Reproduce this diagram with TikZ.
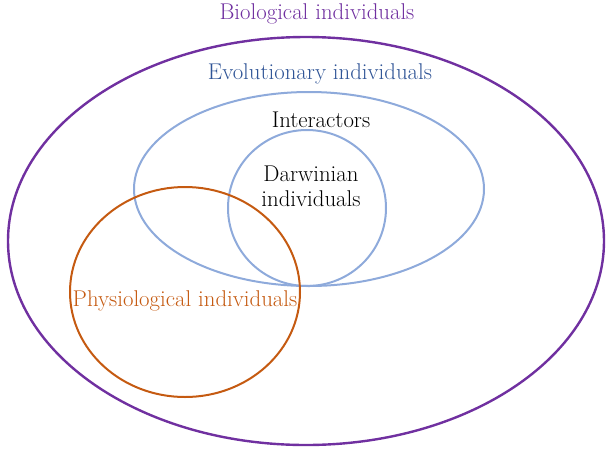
\documentclass[tikz,border=0pt]{standalone}
\usetikzlibrary{positioning}
\definecolor{biopurple}{RGB}{112,48,160}
\definecolor{evoblue}{RGB}{142,170,219}
\definecolor{evotext}{RGB}{47,84,150}
\definecolor{physorange}{RGB}{197,90,17}
\tikzset{lbl/.style={font=\fontsize{22.8}{25}\selectfont, align=center, inner sep=0pt}}

\begin{document}
\begin{tikzpicture}[x=1pt,y=-1pt]
			\useasboundingbox (0,0) rectangle (606,451);
			\draw[biopurple,line width=2.4pt] (306,241) ellipse [x radius=298, y radius=204];
			\draw[evoblue,line width=2pt]     (309,189) ellipse [x radius=175, y radius=97];
			\draw[evoblue,line width=2pt]     (307,208) ellipse [x radius=79, y radius=78];
			\draw[physorange,line width=2pt]  (185,292) ellipse [x radius=115, y radius=105];
			\node[lbl,text=biopurple]  (bio)  at (317,14)  {Biological individuals};
			\node[lbl,text=evotext]    (evo)  at (320,74)  {Evolutionary individuals};
			\node[lbl]                 (inter) at (321,120) {Interactors};
			\node[lbl]                 (darw) at (311,186) {Darwinian\\individuals};
			\node[lbl,text=physorange] (phys) at (185,301) {Physiological individuals};
		\end{tikzpicture}
\end{document}
